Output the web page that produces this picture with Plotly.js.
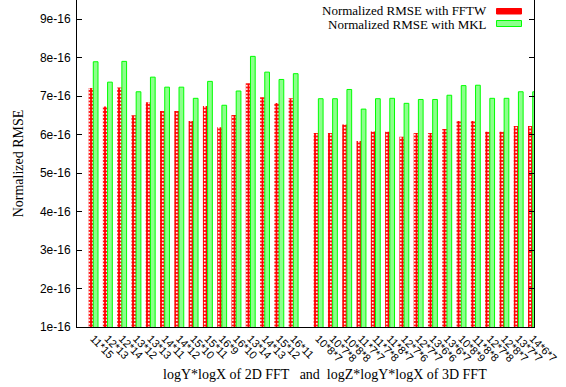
<!DOCTYPE html>
<html>
<head>
<meta charset="utf-8">
<script src="https://cdn.plot.ly/plotly-3.0.1.min.js"></script>
<style>html,body{margin:0;padding:0;background:#fff;}#chart{width:566px;height:387px;}</style>
</head>
<body>
<div id="chart"></div>
<script>
const labels2D = ["11*15","12*13","12*14","13*12","13*13","14*11","14*12","15*10","15*11","16*9","16*10","13*14","14*13","15*12","16*11"];
const labels3D = ["10*8*7","10*7*8","10*8*8","11*7*7","11*7*8","11*8*7","12*7*6","12*7*7","13*6*6","13*6*7","10*8*9","11*8*8","12*7*8","12*8*7","13*7*7","14*6*7"];
const fftw2D = [7.21e-16,6.73e-16,7.22e-16,6.50e-16,6.84e-16,6.61e-16,6.61e-16,6.35e-16,6.74e-16,6.19e-16,6.51e-16,7.33e-16,6.97e-16,6.82e-16,6.94e-16];
const mkl2D  = [7.89e-16,7.36e-16,7.90e-16,7.11e-16,7.49e-16,7.23e-16,7.23e-16,6.94e-16,7.38e-16,6.76e-16,7.13e-16,8.03e-16,7.62e-16,7.43e-16,7.58e-16];
const fftw3D = [6.04e-16,6.04e-16,6.26e-16,5.83e-16,6.08e-16,6.07e-16,5.94e-16,6.04e-16,6.04e-16,6.14e-16,6.35e-16,6.35e-16,6.07e-16,6.07e-16,6.22e-16,6.22e-16];
const mkl3D  = [6.93e-16,6.93e-16,7.17e-16,6.66e-16,6.93e-16,6.94e-16,6.81e-16,6.91e-16,6.91e-16,7.02e-16,7.27e-16,7.28e-16,6.94e-16,6.94e-16,7.11e-16,7.11e-16];
const yTickVals = [1e-16,2e-16,3e-16,4e-16,5e-16,6e-16,7e-16,8e-16,9e-16];
const yTickText = ["1e-16","2e-16","3e-16","4e-16","5e-16","6e-16","7e-16","8e-16","9e-16"];
const seriesNames = ["Normalized RMSE with FFTW","Normalized RMSE with MKL"];
const yTitle = "Normalized RMSE";
const xTitle = "logY*logX of 2D FFT \u00a0\u00a0and \u00a0logZ*logY*logX of 3D FFT";

const GAP = 1.75;
const xs = labels2D.map((_, i) => i).concat(labels3D.map((_, j) => labels2D.length - 1 + GAP + j));
const labels = labels2D.concat(labels3D);
const fftw = fftw2D.concat(fftw3D);
const mkl = mkl2D.concat(mkl3D);

const serif = "Liberation Serif, Times New Roman, serif";
const sans = "Liberation Sans, Arial, sans-serif";

const traces = [
  {type:'bar', x: xs, y: fftw, name: seriesNames[0], showlegend:false,
   marker:{color:'#ff0000', line:{color:'#ff0000', width:0},
           pattern:{shape:'.', fgcolor:'#ffffff', bgcolor:'#ff0000', fillmode:'replace', size:3.5, solidity:0.25}}},
  {type:'bar', x: xs, y: mkl, name: seriesNames[1], showlegend:false,
   marker:{color:'#8cff8c', line:{color:'#00ff00', width:1}}}
];

const L = 77, R = 534.5, T = 0, B = 327;
const pw = R - L, ph = B - T;
const px = v => (v - L) / pw;
const py = v => (B - v) / ph;

const layout = {
  width:566, height:387,
  margin:{l:L, r:566-R, t:T, b:387-B, pad:0},
  paper_bgcolor:'#ffffff', plot_bgcolor:'#ffffff',
  barmode:'group', bargap:0.34, bargroupgap:0,
  showlegend:false,
  font:{family:sans, size:11, color:'#000'},
  xaxis:{range:[-1.14, 30.84], tickvals:xs, ticktext:labels, tickangle:45,
         ticks:'', showline:true, linecolor:'#000', linewidth:1, mirror:false,
         showgrid:false, zeroline:false, tickfont:{family:sans, size:11, color:'#000'},
         automargin:false, fixedrange:true},
  yaxis:{range:[1e-16, 9.494e-16], tickvals:yTickVals, ticktext:yTickText,
         ticks:'inside', ticklen:5, tickcolor:'#000', showline:true, linecolor:'#000', linewidth:1,
         mirror:'ticks', showgrid:false, zeroline:false,
         tickfont:{family:sans, size:12, color:'#000'}, ticklabelstandoff:3,
         title:{text:yTitle, font:{family:serif, size:14, color:'#000'}, standoff:12},
         automargin:false, fixedrange:true},
  annotations:[
    {xref:'paper', yref:'paper', x:px(325), y:py(374), text:xTitle, showarrow:false,
     xanchor:'center', yanchor:'middle', font:{family:serif, size:14, color:'#000'}},
    {xref:'paper', yref:'paper', x:px(489), y:py(11), text:seriesNames[0], showarrow:false,
     xanchor:'right', yanchor:'middle', font:{family:serif, size:13, color:'#000'}},
    {xref:'paper', yref:'paper', x:px(489), y:py(24), text:seriesNames[1], showarrow:false,
     xanchor:'right', yanchor:'middle', font:{family:serif, size:13, color:'#000'}}
  ],
  shapes:[
    {type:'rect', xref:'paper', yref:'paper', x0:px(497), x1:px(522), y0:py(14), y1:py(8.5),
     fillcolor:'#ff0000', line:{color:'#ff0000', width:1}},
    {type:'rect', xref:'paper', yref:'paper', x0:px(497), x1:px(522), y0:py(26.5), y1:py(20.5),
     fillcolor:'#8cff8c', line:{color:'#00ff00', width:1}}
  ]
};

Plotly.newPlot('chart', traces, layout, {displayModeBar:false, staticPlot:true});
</script>
</body>
</html>
